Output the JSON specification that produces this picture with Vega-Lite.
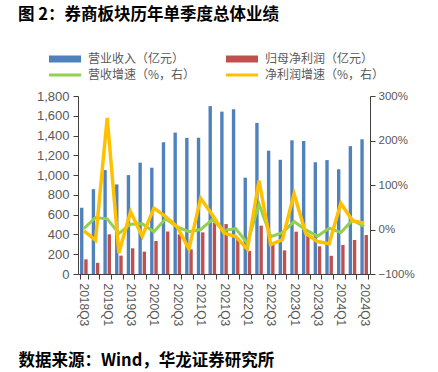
{
  "$schema": "https://vega.github.io/schema/vega-lite/v6.json",
  "width": 292,
  "height": 178,
  "autosize": {"type": "none"},
  "padding": {"left": 78, "top": 96, "right": 68, "bottom": 98},
  "background": "white",
  "title": {
    "text": "图 2：券商板块历年单季度总体业绩",
    "anchor": "start",
    "frame": "group",
    "dx": -60,
    "dy": 12,
    "offset": 42,
    "font": "Noto Sans CJK SC",
    "fontSize": 16.5,
    "fontWeight": "bold",
    "color": "#000000"
  },
  "config": {
    "view": {"stroke": null},
    "axis": {
      "labelFont": "Liberation Sans",
      "labelColor": "#595959",
      "domainColor": "#404040",
      "tickColor": "#404040",
      "tickSize": 5,
      "grid": false
    }
  },
  "data": {
    "values": [
      {"q": "2018Q3", "营业收入（亿元）": 670, "归母净利润（亿元）": 148, "营收增速（%，右）": 2, "净利润增速（%，右）": -3},
      {"q": "2018Q4", "营业收入（亿元）": 858, "归母净利润（亿元）": 113, "营收增速（%，右）": 27, "净利润增速（%，右）": -24},
      {"q": "2019Q1", "营业收入（亿元）": 1051, "归母净利润（亿元）": 401, "营收增速（%，右）": 24, "净利润增速（%，右）": 251},
      {"q": "2019Q2", "营业收入（亿元）": 906, "归母净利润（亿元）": 186, "营收增速（%，右）": -9, "净利润增速（%，右）": -53},
      {"q": "2019Q3", "营业收入（亿元）": 1000, "归母净利润（亿元）": 260, "营收增速（%，右）": 12, "净利润增速（%，右）": 40},
      {"q": "2019Q4", "营业收入（亿元）": 1126, "归母净利润（亿元）": 226, "营收增速（%，右）": 13, "净利润增速（%，右）": -15},
      {"q": "2020Q1", "营业收入（亿元）": 1075, "归母净利润（亿元）": 334, "营收增速（%，右）": -5, "净利润增速（%，右）": 48},
      {"q": "2020Q2", "营业收入（亿元）": 1333, "归母净利润（亿元）": 430, "营收增速（%，右）": 24, "净利润增速（%，右）": 29},
      {"q": "2020Q3", "营业收入（亿元）": 1430, "归母净利润（亿元）": 401, "营收增速（%，右）": 6, "净利润增速（%，右）": 6},
      {"q": "2020Q4", "营业收入（亿元）": 1377, "归母净利润（亿元）": 250, "营收增速（%，右）": -5, "净利润增速（%，右）": -44},
      {"q": "2021Q1", "营业收入（亿元）": 1377, "归母净利润（亿元）": 421, "营收增速（%，右）": 0, "净利润增速（%，右）": 70},
      {"q": "2021Q2", "营业收入（亿元）": 1698, "归母净利润（亿元）": 520, "营收增速（%，右）": 22, "净利润增速（%，右）": 33},
      {"q": "2021Q3", "营业收入（亿元）": 1642, "归母净利润（亿元）": 505, "营收增速（%，右）": -2, "净利润增速（%，右）": -8},
      {"q": "2021Q4", "营业收入（亿元）": 1665, "归母净利润（亿元）": 355, "营收增速（%，右）": 2, "净利润增速（%，右）": -16},
      {"q": "2022Q1", "营业收入（亿元）": 974, "归母净利润（亿元）": 232, "营收增速（%，右）": -31, "净利润增速（%，右）": -44},
      {"q": "2022Q2", "营业收入（亿元）": 1528, "归母净利润（亿元）": 489, "营收增速（%，右）": 57, "净利润增速（%，右）": 110},
      {"q": "2022Q3", "营业收入（亿元）": 1247, "归母净利润（亿元）": 297, "营收增速（%，右）": -16, "净利润增速（%，右）": -34},
      {"q": "2022Q4", "营业收入（亿元）": 1155, "归母净利润（亿元）": 239, "营收增速（%，右）": -7, "净利润增速（%，右）": -23},
      {"q": "2023Q1", "营业收入（亿元）": 1352, "归母净利润（亿元）": 428, "营收增速（%，右）": 18, "净利润增速（%，右）": 80},
      {"q": "2023Q2", "营业收入（亿元）": 1344, "归母净利润（亿元）": 385, "营收增速（%，右）": -1, "净利润增速（%，右）": -9},
      {"q": "2023Q3", "营业收入（亿元）": 1130, "归母净利润（亿元）": 280, "营收增速（%，右）": -15, "净利润增速（%，右）": -27},
      {"q": "2023Q4", "营业收入（亿元）": 1152, "归母净利润（亿元）": 184, "营收增速（%，右）": 3, "净利润增速（%，右）": -32},
      {"q": "2024Q1", "营业收入（亿元）": 1059, "归母净利润（亿元）": 294, "营收增速（%，右）": -7, "净利润增速（%，右）": 59},
      {"q": "2024Q2", "营业收入（亿元）": 1293, "归母净利润（亿元）": 344, "营收增速（%，右）": 21, "净利润增速（%，右）": 20},
      {"q": "2024Q3", "营业收入（亿元）": 1362, "归母净利润（亿元）": 394, "营收增速（%，右）": 7, "净利润增速（%，右）": 14}
    ]
  },
  "layer": [
    {
      "transform": [{"fold": ["营业收入（亿元）", "归母净利润（亿元）"], "as": ["key", "value"]}],
      "mark": {"type": "bar"},
      "encoding": {
        "x": {
          "field": "q",
          "type": "nominal",
          "sort": null,
          "scale": {"paddingInner": 0.35, "paddingOuter": 0.175},
          "axis": {
            "labelAngle": 90,
            "tickBand": "extent",
            "labelFontSize": 12,
            "labelPadding": 4,
            "labelExpr": "(substring(datum.value,5,6)=='1' || substring(datum.value,5,6)=='3') ? datum.value : ''",
            "title": "数据来源：Wind，华龙证券研究所",
            "titleFont": "Noto Sans CJK SC",
            "titleFontWeight": "bold",
            "titleFontSize": 16.5,
            "titleColor": "#000000",
            "titleX": -60,
            "titleY": 91,
            "titleAlign": "left",
            "titleAnchor": "start",
            "titleBaseline": "alphabetic"
          }
        },
        "xOffset": {
          "field": "key",
          "sort": ["营业收入（亿元）", "归母净利润（亿元）"],
          "scale": {"paddingInner": 0.2}
        },
        "y": {
          "field": "value",
          "type": "quantitative",
          "scale": {"domain": [0, 1800], "nice": false},
          "axis": {
            "title": null,
            "orient": "left",
            "values": [0, 200, 400, 600, 800, 1000, 1200, 1400, 1600, 1800],
            "format": ",.0f",
            "labelFontSize": 13,
            "labelPadding": 4
          }
        },
        "color": {
          "field": "key",
          "type": "nominal",
          "scale": {
            "domain": ["营业收入（亿元）", "归母净利润（亿元）", "营收增速（%，右）", "净利润增速（%，右）"],
            "range": ["#4F81BD", "#C0504D", "#92D050", "#FFC000"]
          },
          "legend": {
            "orient": "none",
            "direction": "horizontal",
            "legendX": -19,
            "legendY": -43,
            "title": null,
            "columns": 2,
            "columnPadding": 30,
            "rowPadding": 4,
            "padding": 0,
            "symbolSize": 100,
            "symbolStrokeWidth": 0,
            "labelOffset": 17,
            "labelFont": "Noto Sans CJK SC",
            "labelFontSize": 12,
            "labelColor": "#595959",
            "labelLimit": 300,
            "encode": {
              "symbols": {
                "update": {
                  "shape": {"signal": "(datum.value=='营收增速（%，右）' || datum.value=='净利润增速（%，右）') ? 'M-3.2,-0.3H3.2V0.3H-3.2Z' : 'M-3.2,-0.7H3.2V0.7H-3.2Z'"},
                  "fill": {"scale": "color", "field": "value"},
                  "strokeWidth": {"value": 0}
                }
              }
            }
          }
        }
      }
    },
    {
      "layer": [
        {
          "mark": {"type": "line", "strokeWidth": 3},
          "encoding": {
            "x": {"field": "q", "type": "nominal", "sort": null},
            "y": {
              "field": "营收增速（%，右）",
              "type": "quantitative",
              "scale": {"domain": [-100, 300], "nice": false},
              "axis": {
                "title": null,
                "orient": "right",
                "values": [-100, -50, 0, 50, 100, 150, 200, 250, 300],
                "labelExpr": "format(datum.value, 'd') + '%'",
                "labelFontSize": 11.5,
                "labelPadding": 3
              }
            },
            "color": {
              "datum": "营收增速（%，右）",
              "scale": {
                "domain": ["营业收入（亿元）", "归母净利润（亿元）", "营收增速（%，右）", "净利润增速（%，右）"],
                "range": ["#4F81BD", "#C0504D", "#92D050", "#FFC000"]
              }
            }
          }
        },
        {
          "mark": {"type": "line", "strokeWidth": 3.5},
          "encoding": {
            "x": {"field": "q", "type": "nominal", "sort": null},
            "y": {"field": "净利润增速（%，右）", "type": "quantitative"},
            "color": {
              "datum": "净利润增速（%，右）",
              "scale": {
                "domain": ["营业收入（亿元）", "归母净利润（亿元）", "营收增速（%，右）", "净利润增速（%，右）"],
                "range": ["#4F81BD", "#C0504D", "#92D050", "#FFC000"]
              }
            }
          }
        }
      ]
    }
  ],
  "resolve": {"scale": {"y": "independent"}, "axis": {"y": "independent"}}
}
